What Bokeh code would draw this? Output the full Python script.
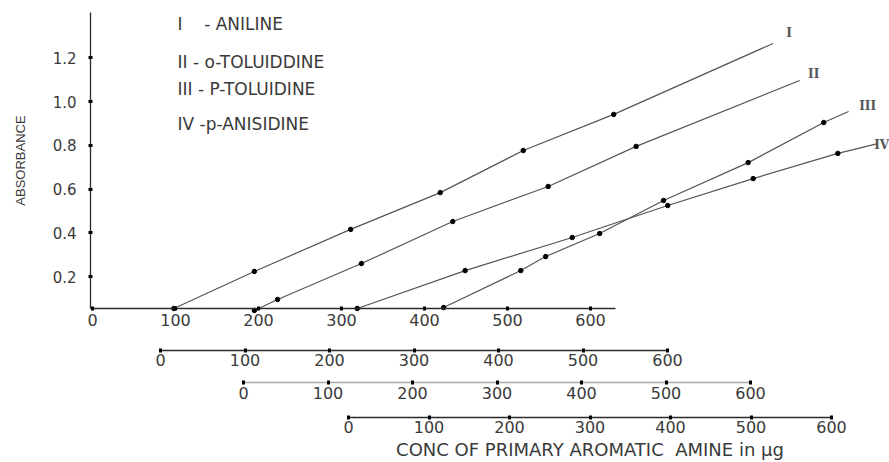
from bokeh.plotting import figure
from bokeh.models import LinearAxis, Range1d, FixedTicker, PrintfTickFormatter
from bokeh.embed import file_html
from bokeh.resources import INLINE
from bokeh.core.properties import value

# ---------------- data ----------------
conc_ticks = [0, 100, 200, 300, 400, 500, 600]
absorbance_ticks = [0.2, 0.4, 0.6, 0.8, 1.0, 1.2]
series_ids = ["I", "II", "III", "IV"]
legend_entries = ["I\u00a0\u00a0\u00a0\u00a0- ANILINE",
                  "II - o-TOLUIDDINE",
                  "III - P-TOLUIDINE",
                  "IV -p-ANISIDINE"]
y_title = "ABSORBANCE"
x_title = "CONC OF PRIMARY AROMATIC\u00a0 AMINE in \u00b5g"

# concentration in units of the top concentration axis; last value = end of drawn line
aniline_conc = [98, 195, 311, 419, 519, 628, 820]
aniline_abs = [0.055, 0.224, 0.416, 0.584, 0.776, 0.941, 1.265]
o_toluidine_conc = [195, 223, 324, 434, 549, 655, 852]
o_toluidine_abs = [0.046, 0.096, 0.260, 0.452, 0.612, 0.795, 1.096]
p_toluidine_conc = [423, 516, 546, 611, 688, 790, 881, 911]
p_toluidine_abs = [0.059, 0.228, 0.292, 0.397, 0.548, 0.721, 0.904, 0.954]
p_anisidine_conc = [319, 449, 578, 693, 796, 898, 946]
p_anisidine_abs = [0.055, 0.228, 0.379, 0.525, 0.648, 0.763, 0.808]

# ---------------- layout ----------------
W, H = 889, 462
M = 0                      # canvas offset on the page
X0, XS = 92, 0.83          # px of conc 0, px per unit (main axis)
Y0, YS = 320, 219          # px of absorbance 0, px per unit
TEXT = "#3a3a3a"


def c_at(px):
    return (px - X0) / XS


def v_at(py):
    return (Y0 - py) / YS


def span(px0, per):
    return Range1d((M - px0) / per, (M + W - px0) / per)


p = figure(width=W, height=H, x_range=span(X0, XS),
           y_range=Range1d(v_at(M + H), v_at(M)),
           output_backend="svg", toolbar_location=None,
           x_axis_location=None, y_axis_location=None, min_border=0)
p.outline_line_color = None
p.grid.visible = False
p.background_fill_color = "white"
p.border_fill_color = "white"


def style_axis(ax, line_color="#2b2b2b", size="16px", standoff=4):
    ax.axis_line_color = line_color
    ax.axis_line_width = 1.3
    ax.major_tick_line_color = "black"
    ax.major_tick_line_width = 3
    ax.major_tick_in = 2
    ax.major_tick_out = 2
    ax.minor_tick_line_color = None
    ax.major_label_text_font = "DejaVu Sans"
    ax.major_label_text_font_size = size
    ax.major_label_text_color = TEXT
    ax.major_label_standoff = standoff


# main axes
x_axis_level = v_at(308)
y_axis_pos = c_at(90)
xa = LinearAxis(fixed_location=x_axis_level, bounds=(y_axis_pos, c_at(615)),
                ticker=FixedTicker(ticks=conc_ticks))
style_axis(xa, standoff=3)
p.add_layout(xa, "below")

ya = LinearAxis(fixed_location=y_axis_pos, bounds=(x_axis_level, v_at(12)),
                ticker=FixedTicker(ticks=absorbance_ticks),
                formatter=PrintfTickFormatter(format="%.1f"))
style_axis(ya, size="15px", standoff=12)
ya.axis_label = y_title
ya.axis_label_text_font = "Liberation Sans"
ya.axis_label_text_font_size = "13px"
ya.axis_label_text_font_style = "normal"
ya.axis_label_text_color = TEXT
ya.axis_label_standoff = 22
p.add_layout(ya, "left")

# offset concentration scales (px of 0, px per unit, py of line, line colour, label standoff)
extra_scales = [("s2", 160, 0.845, 350, "#2b2b2b", 1),
                ("s3", 243, 0.845, 381.5, "#a8a8a8", 3),
                ("s4", 348, 0.805, 417, "#2b2b2b", 1)]
for name, px0, per, py, col, so in extra_scales:
    p.extra_x_ranges[name] = span(px0, per)
    ax = LinearAxis(x_range_name=name, fixed_location=v_at(py), bounds=(0, 600),
                    ticker=FixedTicker(ticks=conc_ticks))
    style_axis(ax, line_color=col, standoff=so)
    if name == "s4":
        ax.axis_label = x_title
        ax.axis_label_text_font = "DejaVu Sans"
        ax.axis_label_text_font_size = "18px"
        ax.axis_label_text_font_style = "normal"
        ax.axis_label_text_color = TEXT
        ax.axis_label_standoff = 3
    p.add_layout(ax, "below")

# ---------------- data lines ----------------
series = [(aniline_conc, aniline_abs, (16, -10)),
          (o_toluidine_conc, o_toluidine_abs, (14, -6)),
          (p_toluidine_conc, p_toluidine_abs, (19, -6)),
          (p_anisidine_conc, p_anisidine_abs, (4, 1))]
lab_x, lab_y = [], []
for xs, ys, (dx, dy) in series:
    p.line(xs, ys, line_color="#555555", line_width=1.2)
    p.scatter(xs[:-1], ys[:-1], size=4.5, color="black")
    lab_x.append(xs[-1] + dx / XS)
    lab_y.append(ys[-1] - dy / YS)

p.text(lab_x, lab_y, text=series_ids, text_font=value("DejaVu Serif"),
       text_font_size="12px", text_font_style="bold", text_color="#555555",
       text_align="center", text_baseline="middle")

# legend block
leg_rows_py = [23, 61, 88, 123]
p.text([c_at(177)] * 4, [v_at(y) for y in leg_rows_py], text=legend_entries,
       text_font=value("DejaVu Sans"), text_font_size="17px", text_color=TEXT,
       text_align="left", text_baseline="middle")

open("out.html", "w").write(file_html(p, INLINE))
